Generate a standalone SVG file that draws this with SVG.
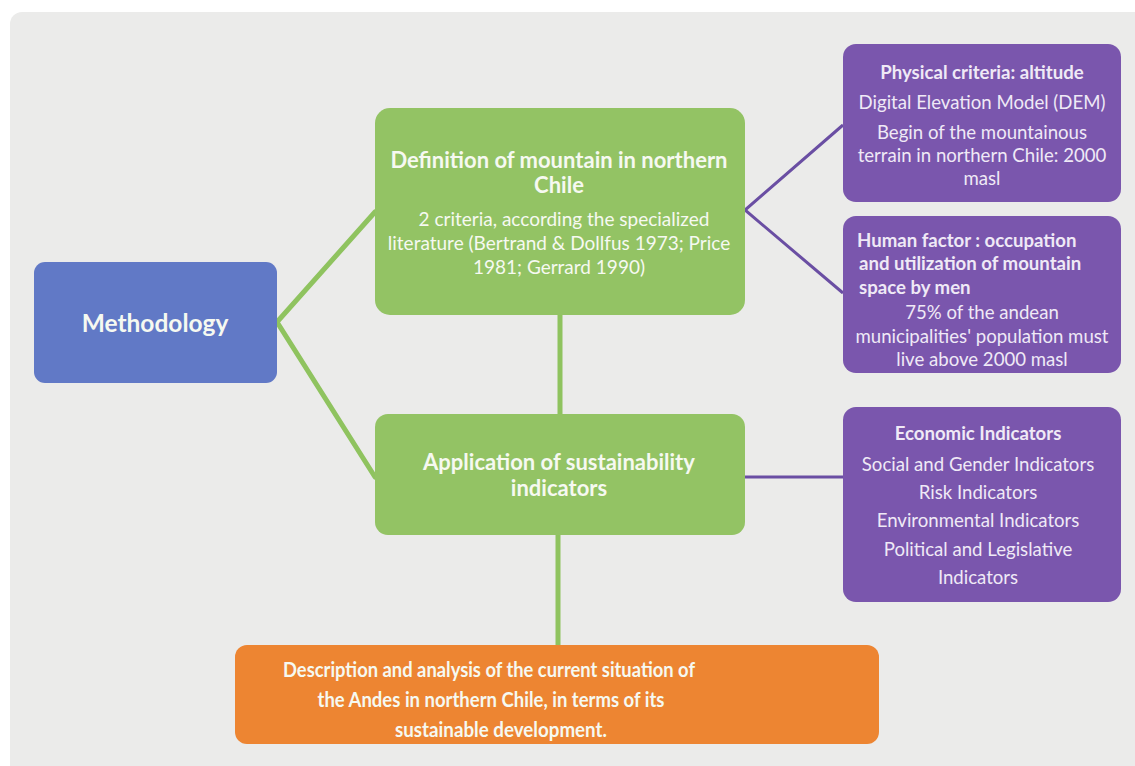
<svg xmlns="http://www.w3.org/2000/svg" width="1135" height="766" viewBox="0 0 1135 766" xml:space="preserve">
  <style>
    .node-blue { fill: #6179c6; }
    .node-green { fill: #93c364; }
    .node-purple { fill: #7a56ad; }
    .node-orange { fill: #ed8532; }
    .link-green { stroke: #8fc35f; stroke-width: 5; fill: none; stroke-linecap: round; }
    .link-purple { stroke: #6a4ea3; stroke-width: 3; fill: none; }
    text { font-family: Lato, "Open Sans", "Liberation Sans", sans-serif; text-anchor: middle; }
    .t-white { fill: #f6f9f1; }
    .t-lilac { fill: #efe9f6; }
    .b { font-weight: bold; }
    .left { text-anchor: start; }
    .p { font-size: 18.6px; }
  </style>

  <!-- page background -->
  <rect x="0" y="0" width="1135" height="766" fill="#ffffff"/>
  <rect x="10" y="12" width="1140" height="770" rx="12" fill="#ebebea"/>

  <!-- connectors -->
  <g id="connectors">
    <polyline class="link-green" points="375,212 277,322 375,477"/>
    <line class="link-green" x1="560" y1="315" x2="560" y2="414"/>
    <line class="link-green" x1="558" y1="535" x2="558" y2="645"/>
    <polyline class="link-purple" points="843,125 745,210 843,293"/>
    <line class="link-purple" x1="745" y1="477" x2="843" y2="477"/>
  </g>

  <g id="methodology">
    <rect class="node-blue" x="34" y="262" width="243" height="121" rx="11"/>
    <text class="t-white b" x="155" y="332" font-size="24.5">Methodology</text>
  </g>

  <g id="definition">
    <rect class="node-green" x="375" y="108" width="370" height="207" rx="15"/>
    <text class="t-white b" x="559" y="168" font-size="22">Definition of mountain in northern</text>
    <text class="t-white b" x="559" y="193" font-size="22">Chile</text>
    <text class="t-white" x="564" y="226" font-size="19">2 criteria,  according the specialized</text>
    <text class="t-white" x="559" y="250" font-size="19">literature (Bertrand  &amp; Dollfus 1973; Price</text>
    <text class="t-white" x="559" y="274" font-size="19">1981; Gerrard 1990)</text>
  </g>

  <g id="application">
    <rect class="node-green" x="375" y="414" width="370" height="121" rx="13"/>
    <text class="t-white b" x="559" y="470" font-size="22">Application of sustainability</text>
    <text class="t-white b" x="559" y="496" font-size="22">indicators</text>
  </g>

  <g id="physical">
    <rect class="node-purple" x="843" y="44" width="278" height="158" rx="13"/>
    <text class="t-lilac b p" x="982" y="79">Physical criteria: altitude</text>
    <text class="t-lilac p" x="982" y="109">Digital Elevation Model (DEM)</text>
    <text class="t-lilac p" x="982" y="139">Begin of the mountainous</text>
    <text class="t-lilac p" x="982" y="162">terrain in  northern Chile: 2000</text>
    <text class="t-lilac p" x="982" y="185">masl</text>
  </g>

  <g id="human">
    <rect class="node-purple" x="843" y="216" width="278" height="157" rx="13"/>
    <text class="t-lilac b p left" x="857" y="247">Human factor : occupation</text>
    <text class="t-lilac b p left" x="859" y="270">and utilization of mountain</text>
    <text class="t-lilac b p left" x="859" y="294">space  by men</text>
    <text class="t-lilac p" x="982" y="319">75% of the andean</text>
    <text class="t-lilac p" x="982" y="343">municipalities' population must</text>
    <text class="t-lilac p" x="982" y="366">live above 2000 masl</text>
  </g>

  <g id="indicators">
    <rect class="node-purple" x="843" y="407" width="278" height="195" rx="13"/>
    <text class="t-lilac b p" x="978" y="440">Economic Indicators</text>
    <text class="t-lilac p" x="978" y="471">Social and Gender Indicators</text>
    <text class="t-lilac p" x="978" y="499">Risk Indicators</text>
    <text class="t-lilac p" x="978" y="527">Environmental Indicators</text>
    <text class="t-lilac p" x="978" y="556">Political and  Legislative</text>
    <text class="t-lilac p" x="978" y="584">Indicators</text>
  </g>

  <g id="outcome">
    <rect class="node-orange" x="235" y="645" width="644" height="99" rx="12"/>
    <text class="t-white b" x="489" y="677" font-size="21" textLength="412" lengthAdjust="spacingAndGlyphs">Description and analysis of the current situation of</text>
    <text class="t-white b" x="491" y="707" font-size="21" textLength="347" lengthAdjust="spacingAndGlyphs">the Andes in northern Chile, in terms of its</text>
    <text class="t-white b" x="501" y="737" font-size="21" textLength="212" lengthAdjust="spacingAndGlyphs">sustainable development.</text>
  </g>
</svg>
